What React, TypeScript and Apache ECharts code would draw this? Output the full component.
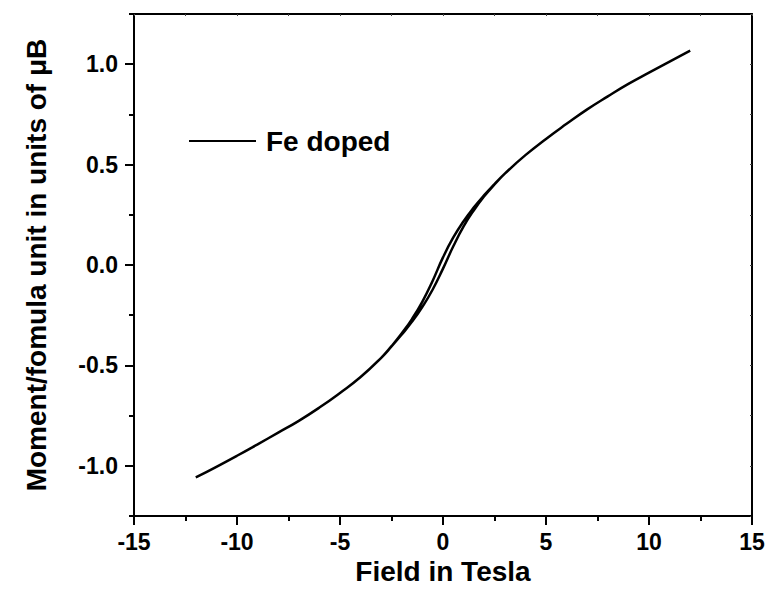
import React, { useEffect, useRef } from "react";
import * as echarts from "echarts";

const seriesName = "Fe doped";
const xTitle = "Field in Tesla";
const yTitle = "Moment/fomula unit in units of μB";

const xTicks = [-15, -10, -5, 0, 5, 10, 15];
const yMajorTicks = [-1.0, -0.5, 0.0, 0.5, 1.0];
const yMinorTicks = [-1.25, -0.75, -0.25, 0.25, 0.75, 1.25];

// descending branch (from +12 T to -12 T)
const fieldDown = [12, 11, 10, 9, 8, 7, 6, 5, 4, 3, 2.5, 2, 1.5, 1, 0.5, 0, -0.5, -1, -1.5, -2, -2.5, -3, -4, -5, -6, -7, -8, -9, -10, -11, -12];
const momentDown = [1.068, 1.013, 0.958, 0.902, 0.84, 0.775, 0.703, 0.628, 0.547, 0.455, 0.403, 0.348, 0.287, 0.218, 0.137, 0.038, -0.078, -0.182, -0.268, -0.34, -0.404, -0.462, -0.558, -0.637, -0.71, -0.776, -0.835, -0.893, -0.95, -1.005, -1.058];

// ascending branch (from -12 T to +12 T)
const fieldUp = [-12, -11, -10, -9, -8, -7, -6, -5, -4, -3, -2.5, -2, -1.5, -1, -0.5, 0, 0.5, 1, 1.5, 2, 2.5, 3, 4, 5, 6, 7, 8, 9, 10, 11, 12];
const momentUp = [-1.058, -1.005, -0.95, -0.893, -0.835, -0.776, -0.71, -0.637, -0.558, -0.462, -0.406, -0.346, -0.282, -0.208, -0.122, -0.018, 0.093, 0.192, 0.273, 0.342, 0.401, 0.455, 0.547, 0.628, 0.703, 0.775, 0.84, 0.902, 0.958, 1.013, 1.068];

const FONT = "Arial, 'Liberation Sans', sans-serif";

export default function App() {
  const ref = useRef<HTMLDivElement>(null);
  useEffect(() => {
    if (!ref.current) return;
    const chart = echarts.init(ref.current, null, { renderer: "svg" });
    const loop: number[][] = [];
    fieldDown.forEach((h, i) => loop.push([h, momentDown[i]]));
    fieldUp.forEach((h, i) => loop.push([h, momentUp[i]]));

    const tickLabel = { fontFamily: FONT, fontWeight: "bold" as const, fontSize: 23, color: "#000" };

    chart.setOption({
      animation: false,
      backgroundColor: "#fff",
      grid: { left: 134, right: 17, top: 14, bottom: 85, containLabel: false },
      legend: {
        data: [{ name: seriesName, icon: "rect" }],
        left: 189,
        top: 127,
        padding: 0,
        itemWidth: 67,
        itemHeight: 2,
        textStyle: { fontFamily: FONT, fontWeight: "bold", fontSize: 28, color: "#000", padding: [0, 0, 0, 5] },
      },
      xAxis: [
        {
          type: "value",
          min: -15,
          max: 15,
          interval: 5,
          position: "bottom",
          name: xTitle,
          nameLocation: "middle",
          nameGap: 30,
          nameTextStyle: { fontFamily: FONT, fontWeight: "bold", fontSize: 28, color: "#000" },
          axisLine: { onZero: false, lineStyle: { color: "#000", width: 2 } },
          axisTick: { show: true, inside: false, length: 9, lineStyle: { color: "#000", width: 2 } },
          minorTick: { show: true, splitNumber: 2, length: 5, lineStyle: { color: "#000", width: 2 } },
          axisLabel: { ...tickLabel, margin: 14, customValues: xTicks },
          splitLine: { show: false },
        },
        {
          type: "value",
          min: -15,
          max: 15,
          interval: 2.5,
          position: "top",
          axisLine: { onZero: false, lineStyle: { color: "#000", width: 2 } },
          axisTick: { show: true, inside: true, length: 2, lineStyle: { color: "#444", width: 1 } },
          axisLabel: { show: false },
          splitLine: { show: false },
        },
      ],
      yAxis: [
        {
          type: "value",
          min: -1.25,
          max: 1.25,
          position: "left",
          name: yTitle,
          nameLocation: "middle",
          nameGap: 84,
          nameRotate: 90,
          nameTextStyle: { fontFamily: FONT, fontWeight: "bold", fontSize: 28, color: "#000" },
          axisLine: { onZero: false, lineStyle: { color: "#000", width: 2 } },
          axisTick: { show: true, inside: false, length: 9, customValues: yMajorTicks, lineStyle: { color: "#000", width: 2 } },
          axisLabel: { ...tickLabel, margin: 16, customValues: yMajorTicks, formatter: (v: number) => v.toFixed(1) },
          splitLine: { show: false },
        },
        {
          type: "value",
          min: -1.25,
          max: 1.25,
          position: "left",
          axisLine: { show: false, onZero: false },
          axisTick: { show: true, inside: false, length: 5, customValues: yMinorTicks, lineStyle: { color: "#000", width: 2 } },
          axisLabel: { show: false },
          splitLine: { show: false },
        },
        {
          type: "value",
          min: -1.25,
          max: 1.25,
          interval: 0.25,
          position: "right",
          axisLine: { show: true, onZero: false, lineStyle: { color: "#000", width: 2 } },
          axisTick: { show: true, inside: true, length: 2, lineStyle: { color: "#444", width: 1 } },
          axisLabel: { show: false },
          splitLine: { show: false },
        },
      ],
      series: [
        {
          name: seriesName,
          type: "line",
          data: loop,
          xAxisIndex: 0,
          yAxisIndex: 0,
          smooth: 0.5,
          symbol: "none",
          lineStyle: { color: "#000", width: 2.5 },
          itemStyle: { color: "#000" },
        },
      ],
    });
    return () => chart.dispose();
  }, []);
  return <div ref={ref} style={{ width: 769, height: 601, position: "absolute", left: 0, top: 0 }} />;
}
